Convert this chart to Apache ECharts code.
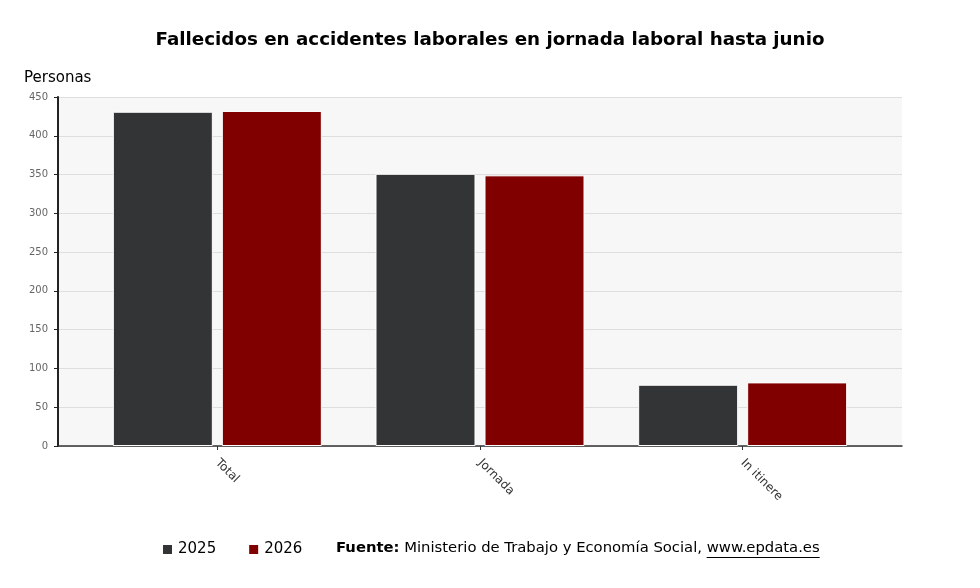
<!DOCTYPE html>
<html>
<head>
<meta charset="utf-8">
<script src="https://cdn.jsdelivr.net/npm/echarts@6/dist/echarts.min.js"></script>
<style>
  html, body { margin: 0; padding: 0; background: #fff; }
  #chart { width: 980px; height: 588px; }
</style>
</head>
<body>
<div id="chart"></div>
<script>
// datos
var categorias = ['Total', 'Jornada', 'In itinere'];
var serie2025 = [431, 351, 79];
var serie2026 = [432, 349, 82];
var yTicks = [0, 50, 100, 150, 200, 250, 300, 350, 400, 450];

var fuente = 'DejaVu Sans';
var tamFuente = 14.8;
var myChart = echarts.init(document.getElementById('chart'));

// medir el texto de la fuente para subrayar el enlace
var ctx = document.createElement('canvas').getContext('2d');
ctx.font = 'bold ' + tamFuente + 'px "' + fuente + '"';
var wNegrita = ctx.measureText('Fuente:').width;
ctx.font = tamFuente + 'px "' + fuente + '"';
var wMedio = ctx.measureText(' Ministerio de Trabajo y Economía Social, ').width;
var wEnlace = ctx.measureText('www.epdata.es').width;
var xFuente = 336;
var xEnlace = xFuente + wNegrita + wMedio;

var option = {
    backgroundColor: '#fff',
    animation: false,
    title: {
        text: 'Fallecidos en accidentes laborales en jornada laboral hasta junio',
        left: 'center',
        top: 26,
        textStyle: { fontFamily: fuente, fontSize: 18.3, fontWeight: 'bold', color: '#000' }
    },
    legend: {
        left: 156,
        top: 537,
        itemWidth: 11,
        itemHeight: 11,
        itemGap: 31,
        icon: 'rect',
        textStyle: { fontFamily: fuente, fontSize: 15, color: '#000' },
        data: ['2025', '2026']
    },
    grid: [
        // zona del fondo y eje y
        { left: 58, right: 78, top: 97, bottom: 142, show: true, backgroundColor: '#f7f7f7', borderWidth: 0 },
        // zona de las barras
        { left: 86, right: 106, top: 97, bottom: 142 }
    ],
    xAxis: [
        {
            gridIndex: 0, type: 'value', min: 0, max: 1,
            axisLine: { show: true, onZero: false, lineStyle: { color: '#333', width: 1.5 } },
            axisTick: { show: false }, axisLabel: { show: false }, splitLine: { show: false }
        },
        {
            gridIndex: 1, type: 'category', data: categorias,
            axisLine: { show: false },
            axisTick: { show: true, alignWithLabel: true, length: 4, lineStyle: { color: '#333' } },
            axisLabel: { rotate: -45, margin: 15, fontFamily: fuente, fontSize: 12, color: '#333', interval: 0 }
        }
    ],
    yAxis: [
        {
            gridIndex: 0, type: 'value', min: yTicks[0], max: yTicks[yTicks.length - 1], interval: 50,
            axisLine: { show: true, lineStyle: { color: '#222', width: 2 } },
            axisTick: { show: true, length: 4, lineStyle: { color: '#222' } },
            axisLabel: { fontFamily: fuente, fontSize: 10, color: '#666', margin: 10 },
            splitLine: { lineStyle: { color: '#dedede' } }
        },
        {
            gridIndex: 1, type: 'value', min: 0, max: 450, show: false,
            splitLine: { show: false }
        }
    ],
    series: [
        {
            name: '2025', type: 'bar', xAxisIndex: 1, yAxisIndex: 1,
            data: serie2025, barWidth: 100, barGap: '9%',
            itemStyle: { color: '#333435', borderColor: '#ffffff', borderWidth: 1 }
        },
        {
            name: '2026', type: 'bar', xAxisIndex: 1, yAxisIndex: 1,
            data: serie2026, barWidth: 100, barGap: '9%',
            itemStyle: { color: '#800000', borderColor: '#ffffff', borderWidth: 1 }
        }
    ],
    graphic: [
        {
            type: 'text', left: 24, top: 71,
            style: { text: 'Personas', fontFamily: fuente, fontSize: 15, fill: '#000' }
        },
        {
            type: 'text', left: xFuente, top: 541,
            style: {
                text: '{b|Fuente:} Ministerio de Trabajo y Economía Social, www.epdata.es',
                fontFamily: fuente, fontSize: tamFuente, fill: '#000',
                rich: {
                    b: { fontFamily: fuente, fontSize: tamFuente, fontWeight: 'bold', fill: '#000' }
                }
            }
        },
        {
            type: 'line', shape: { x1: xEnlace, y1: 557.5, x2: xEnlace + wEnlace, y2: 557.5 },
            style: { stroke: '#000', lineWidth: 1 }
        }
    ]
};
myChart.setOption(option);
</script>
</body>
</html>
